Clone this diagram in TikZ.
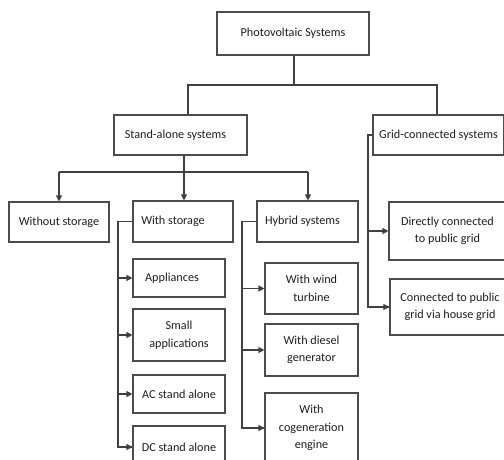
\documentclass[tikz,border=0pt]{standalone}
\usepackage{fontspec}
\setmainfont{Carlito}
\usetikzlibrary{arrows.meta}
\begin{document}
\begin{tikzpicture}[x=1pt,y=-1pt,
  box/.style={draw=black!70, line width=1.1pt, fill=white, inner sep=0pt, align=center, font=\fontsize{12.2}{17.5}\selectfont, text=black!88},
  conn/.style={draw=black!75, line width=1.1pt},
  arr/.style={conn, -{Triangle[length=6pt,width=6pt]}}]
\useasboundingbox (0,0) rectangle (504,459);
\clip (0,0) rectangle (504,459);
\newcommand{\bx}[6]{\node[box, minimum width=#3-#2, minimum height=#5-#4] (#1) at ({(#2+#3)/2},{(#4+#5)/2}) {#6};}
\bx{pv}{217}{369}{12}{55}{Photovoltaic Systems}
\bx{sa}{114}{247}{115}{155}{\hspace*{-10pt}Stand-alone systems}
\bx{gc}{373}{504}{115}{155}{Grid-connected systems}
\bx{wo}{9}{109}{202}{242}{Without storage}
\bx{ws}{133}{233}{201}{242}{\hspace*{-20pt}With storage}
\bx{hy}{257}{358}{201}{242}{\hspace*{-10pt}Hybrid systems}
\bx{dc}{389}{506}{202}{260}{Directly connected\\to public grid}
\bx{cp}{390}{510}{279}{335}{Connected to public\\grid via house grid}
\bx{ap}{133}{225}{259}{297}{\hspace*{-14pt}Appliances}
\bx{sm}{133}{225}{309}{361}{Small\\applications}
\bx{ac}{133}{225}{375}{413}{AC stand alone}
\bx{ds}{133}{225}{426}{468}{DC stand alone}
\bx{wt}{265}{358}{263}{314}{With wind\\turbine}
\bx{dg}{265}{358}{324}{376}{With diesel\\generator}
\bx{ce}{265}{358}{393}{463}{With\\cogeneration\\engine}
% top level
\coordinate (j1) at (294,85);
\coordinate (jL) at (188,85);
\coordinate (jR) at (437,85);
\draw[conn] (pv.south -| j1) -- (j1);
\draw[conn] (jL |- sa.north) -- (jL) -- (jR) -- (jR |- gc.north);
% stand-alone
\coordinate (j2) at (184,172);
\coordinate (j2a) at (59,172);
\coordinate (j2c) at (308,172);
\draw[conn] (j2 |- sa.south) -- (j2);
\draw[conn] (j2a) -- (j2c);
\draw[arr] (j2a) -- (j2a |- wo.north);
\draw[arr] (j2) -- (j2 |- ws.north);
\draw[arr] (j2c) -- (j2c |- hy.north);
% grid-connected
\coordinate (bG) at (368,135);
\draw[conn] (gc.west) -- (bG) |- (cp.west);
\draw[arr] (dc.west -| bG) -- (dc.west);
\draw[arr] (cp.west -| bG) -- (cp.west);
% with storage
\coordinate (bS) at (118,221.5);
\draw[conn] (ws.west) -- (bS) |- (ds.west);
\draw[arr] (ap.west -| bS) -- (ap.west);
\draw[arr] (sm.west -| bS) -- (sm.west);
\draw[arr] (ac.west -| bS) -- (ac.west);
\draw[arr] (ds.west -| bS) -- (ds.west);
% hybrid
\coordinate (bH) at (242,221.5);
\draw[conn] (hy.west) -- (bH) |- (ce.west);
\draw[arr] (wt.west -| bH) -- (wt.west);
\draw[arr] (dg.west -| bH) -- (dg.west);
\draw[arr] (ce.west -| bH) -- (ce.west);
\end{tikzpicture}
\end{document}
